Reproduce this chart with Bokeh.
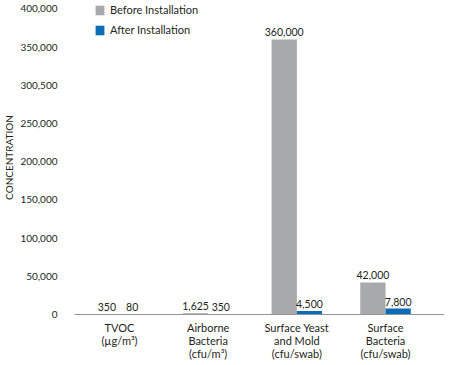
from bokeh.plotting import figure
from bokeh.models import ColumnDataSource, Range1d, FixedTicker, Legend, LegendItem
from bokeh.core.properties import value
from bokeh.embed import file_html
from bokeh.resources import INLINE

categories = ["TVOC\n(µg/m³)", "Airborne\nBacteria\n(cfu/m³)",
              "Surface Yeast\nand Mold\n(cfu/swab)", "Surface\nBacteria\n(cfu/swab)"]
before = [350, 1625, 360000, 42000]
after = [80, 350, 4500, 7800]
before_labels = ["350", "1,625", "360,000", "42,000"]
after_labels = ["80", "350", "4,500", "7,800"]
y_ticks = [0, 50000, 100000, 150000, 200000, 250000, 300000, 350000, 400000]
y_tick_labels = ["0", "50,000", "100,000", "150,000", "200,000", "250,000", "300,500", "350,000", "400,000"]

FONT = "Lato"
GRAY = "#A7A9AC"
BLUE = "#0C6CB6"
TXT = "#231F20"
BW = 0.285
idx = list(range(len(categories)))

src_b = ColumnDataSource(dict(x=[i - BW / 2 for i in idx], top=before, lab=before_labels))
src_a = ColumnDataSource(dict(x=[i + BW / 2 for i in idx], top=after, lab=after_labels))

p = figure(frame_width=370, frame_height=314, output_backend="svg", toolbar_location=None,
           x_range=Range1d(-0.5075, 3.665), y_range=Range1d(0, 411000),
           min_border_left=71, min_border_right=0, min_border_top=0, min_border_bottom=0)
p.outline_line_color = None
p.grid.visible = False

rb = p.vbar(x="x", top="top", width=BW, source=src_b, color=GRAY, line_color=None)
ra = p.vbar(x="x", top="top", width=BW, source=src_a, color=BLUE, line_color=None)

for s in (src_b, src_a):
    p.text(x="x", y="top", text="lab", source=s, text_font=value(FONT),
           text_font_size="10.5px", text_align="center", text_baseline="bottom",
           y_offset=-3, text_color=TXT)

# y axis
p.yaxis.ticker = FixedTicker(ticks=y_ticks)
p.yaxis.major_label_overrides = {t: l for t, l in zip(y_ticks, y_tick_labels)}
p.yaxis.axis_line_color = None
p.yaxis.major_tick_line_color = None
p.yaxis.minor_tick_line_color = None
p.yaxis.major_tick_out = 0
p.yaxis.major_tick_in = 0
p.yaxis.major_label_standoff = 17
p.yaxis.major_label_text_font = FONT
p.yaxis.major_label_text_font_size = "10px"
p.yaxis.major_label_text_color = TXT
p.yaxis.axis_label = "CONCENTRATION"
p.yaxis.axis_label_text_font = FONT
p.yaxis.axis_label_text_font_style = "normal"
p.yaxis.axis_label_text_font_size = "10px"
p.yaxis.axis_label_text_color = TXT
p.yaxis.axis_label_standoff = 2

# x axis
p.xaxis.axis_label = None
p.xaxis.ticker = FixedTicker(ticks=idx)
p.xaxis.major_label_overrides = {i: c for i, c in zip(idx, categories)}
p.xaxis.axis_line_color = "#939598"
p.xaxis.axis_line_width = 1
p.xaxis.major_tick_line_color = None
p.xaxis.minor_tick_line_color = None
p.xaxis.major_tick_out = 0
p.xaxis.major_tick_in = 0
p.xaxis.major_label_standoff = 6
p.xaxis.major_label_text_font = FONT
p.xaxis.major_label_text_font_size = "11px"
p.xaxis.major_label_text_line_height = 1.0
p.xaxis.major_label_text_color = TXT

legend = Legend(items=[LegendItem(label="Before Installation", renderers=[rb]),
                       LegendItem(label="After Installation", renderers=[ra])],
                location=(20, 278), orientation="vertical",
                glyph_width=11, glyph_height=12, label_height=12, spacing=7,
                label_standoff=5, padding=0, margin=0,
                border_line_color=None, background_fill_alpha=0,
                label_text_font=FONT, label_text_font_size="11px",
                label_text_color=TXT)
p.add_layout(legend)

open("out.html", "w").write(file_html(p, INLINE))
